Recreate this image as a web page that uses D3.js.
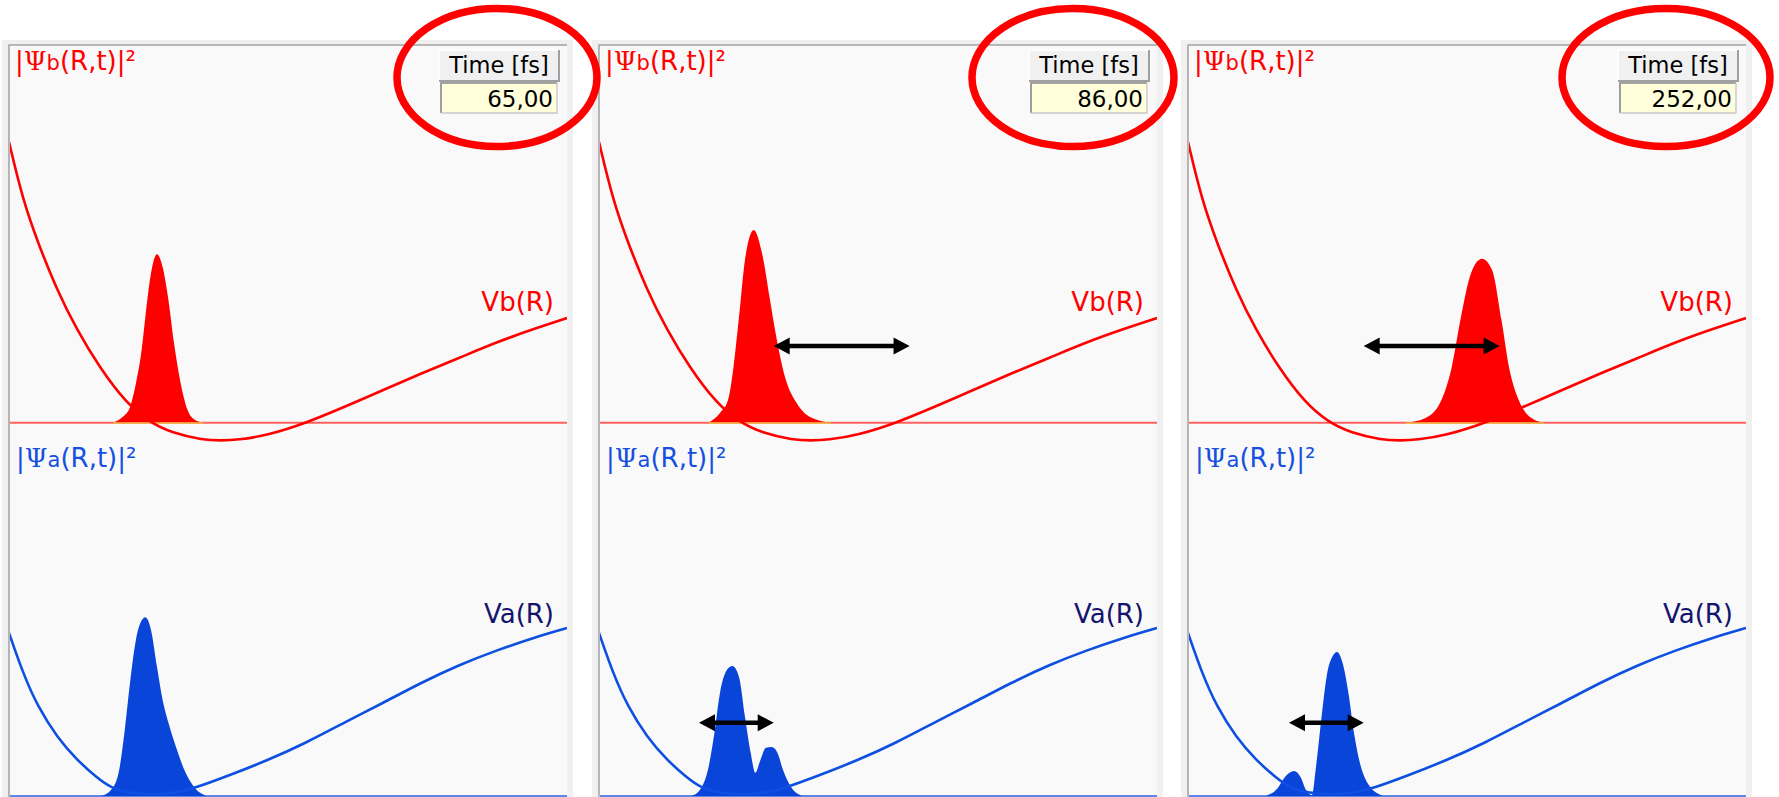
<!DOCTYPE html>
<html><head><meta charset="utf-8">
<script src="https://cdn.jsdelivr.net/npm/d3@7"></script>
<style>html,body{margin:0;padding:0;background:#fff;overflow:hidden}</style>
</head><body><svg id="c" width="1779" height="797"></svg>
<script>
// ---------- data ----------
const timeLabels = ["65,00", "86,00", "252,00"];
// potential curves (R in a.u. 0..10, energy in relative units)
const vbR = [0.0,0.25,0.52,0.86,1.22,1.62,2.10,2.51,2.92,3.48,3.80,4.09,4.64,5.32,6.00,6.70,7.38,8.06,8.75,9.44,10.0];
const vbE = [0.743,0.589,0.476,0.351,0.245,0.147,0.052,0.002,-0.027,-0.046,-0.047,-0.046,-0.033,-0.001,0.041,0.086,0.130,0.171,0.214,0.250,0.277];
const vaR = [0.0,0.25,0.52,0.86,1.22,1.56,1.83,2.17,2.58,2.97,3.33,3.96,4.64,5.32,6.00,6.70,7.38,8.06,8.75,9.44,10.0];
const vaE = [0.437,0.329,0.238,0.158,0.096,0.051,0.021,0.008,0.003,0.008,0.021,0.056,0.096,0.142,0.196,0.249,0.303,0.351,0.391,0.426,0.450];
// |Psi_b|^2 on the upper state at t = 65, 86, 252 fs  ([R, density])
const psiB65 = [[1.864,0],[2.034,0.015],[2.168,0.041],[2.276,0.105],[2.376,0.192],[2.444,0.280],[2.545,0.396],[2.652,0.446],[2.753,0.412],[2.857,0.325],[2.957,0.211],[3.065,0.113],[3.199,0.034],[3.333,0.007],[3.477,0]];
const psiB86 = [[1.964,0],[2.168,0.026],[2.312,0.060],[2.410,0.147],[2.509,0.280],[2.616,0.431],[2.774,0.510],[2.921,0.449],[3.065,0.325],[3.165,0.237],[3.333,0.121],[3.543,0.052],[3.781,0.015],[4.158,0]];
const psiB252 = [[3.903,0],[4.247,0.012],[4.516,0.052],[4.726,0.147],[4.892,0.280],[5.072,0.396],[5.269,0.434],[5.448,0.405],[5.618,0.272],[5.753,0.147],[5.927,0.060],[6.129,0.015],[6.373,0]];
// |Psi_a|^2 on the lower state
const psiA65 = [[1.656,0],[1.828,0.016],[1.964,0.062],[2.068,0.169],[2.168,0.302],[2.274,0.418],[2.362,0.466],[2.444,0.479],[2.545,0.445],[2.652,0.346],[2.753,0.257],[2.857,0.196],[2.993,0.131],[3.165,0.062],[3.333,0.021],[3.543,0]];
const psiA86 = [[1.656,0],[1.828,0.021],[1.964,0.078],[2.068,0.169],[2.168,0.276],[2.294,0.338],[2.391,0.348],[2.509,0.319],[2.616,0.212],[2.719,0.115],[2.801,0.062],[2.891,0.096],[2.993,0.129],[3.097,0.131],[3.199,0.115],[3.297,0.070],[3.441,0.024],[3.645,0]];
const psiA252 = [[1.398,0],[1.606,0.021],[1.738,0.051],[1.900,0.067],[2.016,0.051],[2.115,0.016],[2.222,0.002],[2.294,0.078],[2.394,0.212],[2.496,0.330],[2.586,0.373],[2.670,0.386],[2.771,0.356],[2.875,0.276],[2.975,0.169],[3.082,0.088],[3.217,0.035],[3.495,0]];
// double arrows [R1, R2, level]
const arrowsB = [null, [3.131,5.566,0.203], [3.149,5.584,0.203]];
const arrowsA = [null, [1.792,3.131,0.196], [1.810,3.149,0.196]];

const packetsB = [psiB65, psiB86, psiB252];
const packetsA = [psiA65, psiA86, psiA252];

// ---------- layout ----------
const svg = d3.select("#c");
const FONT = "DejaVu Sans, Verdana, sans-serif";
const PSI_FONT = "DejaVu Serif, serif";
const panelLefts = [9, 599, 1188];
const plotW = 558, plotTop = 45, plotBottom = 800;
const x = d3.scaleLinear().domain([0, 10]).range([0, plotW]);
const yB = d3.scaleLinear().domain([0, 1]).range([422.7, 45]);
const yA = d3.scaleLinear().domain([0, 1]).range([796, 422.7]);

const vbData = vbR.map((r, i) => [r, vbE[i]]);
const vaData = vaR.map((r, i) => [r, vaE[i]]);

const RED = "#ff0000", BLUE = "#0a45da";

function drawArrow(g, x1, x2, y) {
  const hl = 16, hw = 8.5;
  g.append("line").attr("x1", x1 + hl - 2).attr("x2", x2 - hl + 2)
    .attr("y1", y).attr("y2", y).attr("stroke", "#000").attr("stroke-width", 4.5);
  g.append("path").attr("d", `M${x1},${y}L${x1 + hl},${y - hw}L${x1 + hl},${y + hw}Z`).attr("fill", "#000");
  g.append("path").attr("d", `M${x2},${y}L${x2 - hl},${y - hw}L${x2 - hl},${y + hw}Z`).attr("fill", "#000");
}

function psiLabel(g, xx, yy, sub, color) {
  const t = g.append("text").attr("x", xx).attr("y", yy).attr("font-family", FONT).attr("font-size", 26).attr("fill", color);
  t.append("tspan").text("|");
  t.append("tspan").attr("font-family", PSI_FONT).text("Ψ");
  t.append("tspan").attr("font-size", 21).text(sub);
  t.append("tspan").text("(R,t)|²");
}

const defs = svg.append("defs");

panelLefts.forEach((left, i) => {
  svg.append("rect").attr("x", left - 7).attr("y", 40).attr("width", plotW + 13).attr("height", 800).attr("fill", "#f0f0f0");
  const g = svg.append("g").attr("transform", `translate(${left},0)`);
  g.append("rect").attr("x", 0).attr("y", plotTop).attr("width", plotW).attr("height", plotBottom - plotTop).attr("fill", "#f9f9f9");
  g.append("line").attr("x1", -0.5).attr("x2", plotW).attr("y1", plotTop).attr("y2", plotTop).attr("stroke", "#a0a0a0").attr("stroke-width", 1.5);
  g.append("line").attr("x1", 0).attr("x2", 0).attr("y1", plotTop).attr("y2", plotBottom).attr("stroke", "#a0a0a0").attr("stroke-width", 1.5);

  defs.append("clipPath").attr("id", "clip" + i).append("rect")
    .attr("x", 1).attr("y", plotTop + 1).attr("width", plotW - 1).attr("height", plotBottom - plotTop);
  const pg = g.append("g").attr("clip-path", `url(#clip${i})`);

  // baselines
  pg.append("line").attr("x1", 0).attr("x2", plotW).attr("y1", yB(0)).attr("y2", yB(0)).attr("stroke", "#ff6060").attr("stroke-width", 2);
  pg.append("line").attr("x1", 0).attr("x2", plotW).attr("y1", yA(0)).attr("y2", yA(0)).attr("stroke", "#5b88e6").attr("stroke-width", 2);

  // packets
  const areaB = d3.area().x(d => x(d[0])).y0(yB(0)).y1(d => yB(d[1])).curve(d3.curveMonotoneX);
  const areaA = d3.area().x(d => x(d[0])).y0(yA(0)).y1(d => yA(d[1])).curve(d3.curveMonotoneX);
  const pb = packetsB[i];
  pg.append("path").attr("d", areaB(pb)).attr("fill", RED);
  pg.append("line").attr("x1", x(pb[0][0])).attr("x2", x(pb[pb.length - 1][0]))
    .attr("y1", yB(0) + 0.3).attr("y2", yB(0) + 0.3).attr("stroke", "#f2c040").attr("stroke-width", 1.3);
  pg.append("path").attr("d", areaA(packetsA[i])).attr("fill", BLUE);

  // potentials
  const lineB = d3.line().x(d => x(d[0])).y(d => yB(d[1])).curve(d3.curveBasis);
  const lineA = d3.line().x(d => x(d[0])).y(d => yA(d[1])).curve(d3.curveBasis);
  pg.append("path").attr("d", lineB(vbData)).attr("fill", "none").attr("stroke", RED).attr("stroke-width", 2.6);
  pg.append("path").attr("d", lineA(vaData)).attr("fill", "none").attr("stroke", "#0d4fe0").attr("stroke-width", 2.6);

  // labels
  psiLabel(g, 6, 70, "b", RED);
  psiLabel(g, 7, 467, "a", "#1650e0");
  g.append("text").attr("x", 545).attr("y", 311).attr("text-anchor", "end").attr("font-family", FONT).attr("font-size", 26).attr("fill", RED).text("Vb(R)");
  g.append("text").attr("x", 545).attr("y", 623).attr("text-anchor", "end").attr("font-family", FONT).attr("font-size", 26).attr("fill", "#14146e").text("Va(R)");

  // arrows
  if (arrowsB[i]) drawArrow(g, x(arrowsB[i][0]), x(arrowsB[i][1]), yB(arrowsB[i][2]));
  if (arrowsA[i]) drawArrow(g, x(arrowsA[i][0]), x(arrowsA[i][1]), yA(arrowsA[i][2]));

  // time widget
  const bx = 430, by = 50, bw = 120, bh = 31;
  g.append("rect").attr("x", bx).attr("y", by).attr("width", bw).attr("height", bh).attr("fill", "#f0f0f0");
  g.append("path").attr("d", `M${bx},${by + bh}V${by}H${bx + bw}`).attr("fill", "none").attr("stroke", "#ffffff").attr("stroke-width", 1.5);
  g.append("path").attr("d", `M${bx},${by + bh}H${bx + bw}V${by}`).attr("fill", "none").attr("stroke", "#a0a0a0").attr("stroke-width", 2);
  g.append("text").attr("x", bx + bw / 2).attr("y", 73).attr("text-anchor", "middle").attr("font-family", FONT).attr("font-size", 22.5).attr("fill", "#000").text("Time [fs]");
  const vx = 432, vy = 83, vw = 116, vh = 30;
  g.append("rect").attr("x", vx).attr("y", vy).attr("width", vw).attr("height", vh).attr("fill", "#ffffdc");
  g.append("path").attr("d", `M${vx},${vy + vh}V${vy}H${vx + vw}`).attr("fill", "none").attr("stroke", "#888888").attr("stroke-width", 1.6);
  g.append("path").attr("d", `M${vx},${vy + vh}H${vx + vw}V${vy}`).attr("fill", "none").attr("stroke", "#c8c8c8").attr("stroke-width", 1.4);
  g.append("text").attr("x", 544).attr("y", 107).attr("text-anchor", "end").attr("font-family", FONT).attr("font-size", 23).attr("fill", "#000").text(timeLabels[i]);
});

// highlight ellipses around the time widgets
const ellipseOffsets = [488, 474, 478];
const ellipseRx = [100, 101, 104];
panelLefts.forEach((left, i) => {
  svg.append("ellipse").attr("cx", left + ellipseOffsets[i]).attr("cy", 77.5)
    .attr("rx", ellipseRx[i]).attr("ry", 69)
    .attr("fill", "none").attr("stroke", "#ff0000").attr("stroke-width", 7.5);
});
</script></body></html>
